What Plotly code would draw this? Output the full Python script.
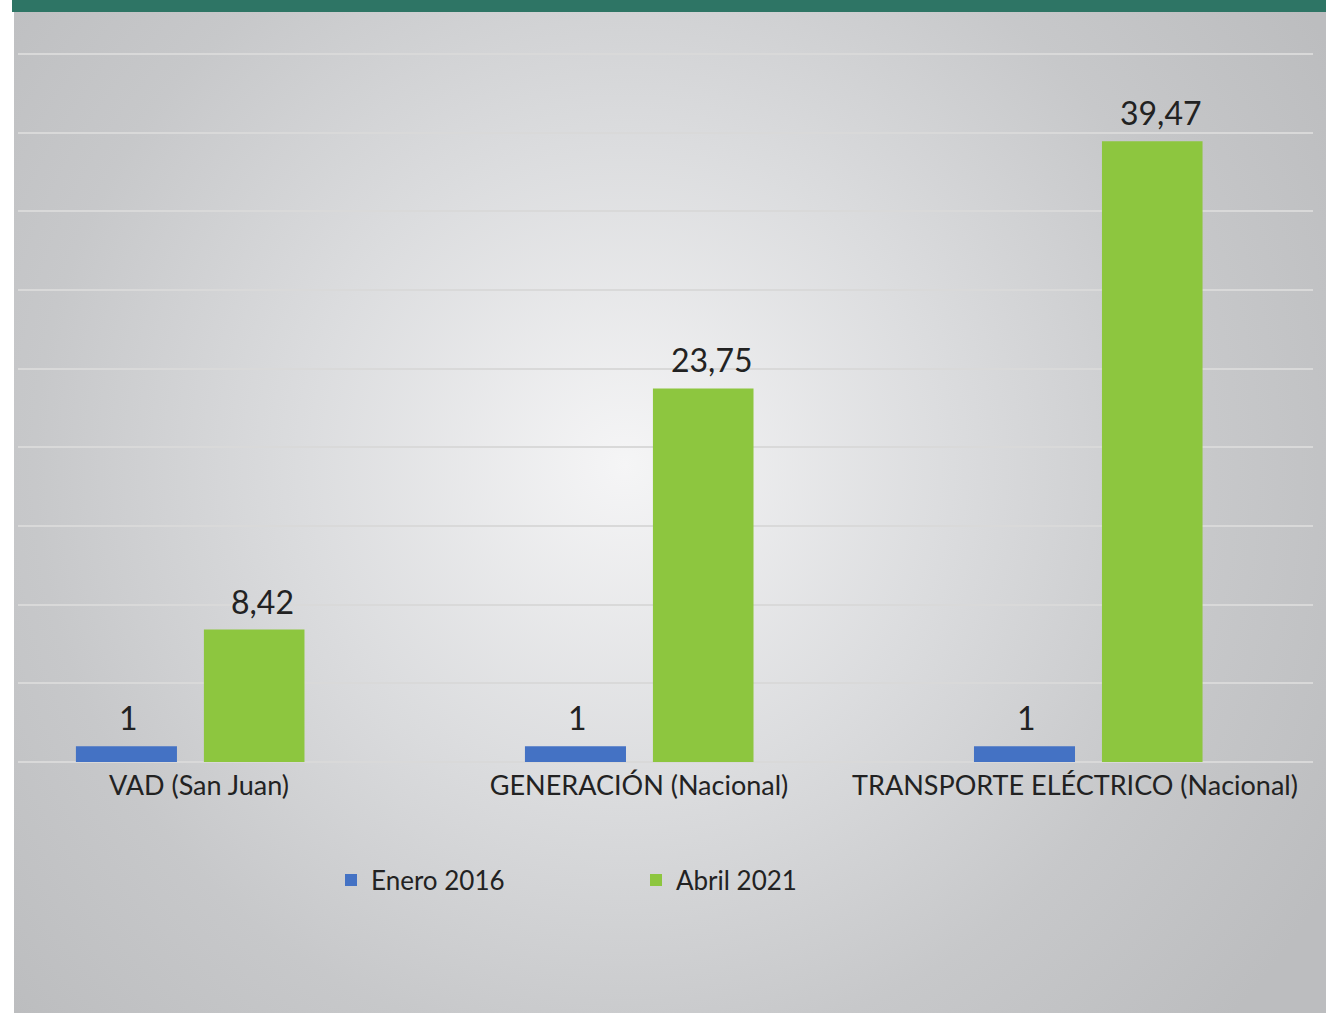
import base64
import plotly.graph_objects as go

# ---- data ----
categories = ["VAD (San Juan)", "GENERACIÓN (Nacional)", "TRANSPORTE ELÉCTRICO (Nacional)"]
series_names = ["Enero 2016", "Abril 2021"]
enero_2016 = [1, 1, 1]
abril_2021 = [8.42, 23.75, 39.47]
y_ticks = [0, 5, 10, 15, 20, 25, 30, 35, 40, 45]

# ---- style ----
W, H = 1326, 1013
ML, MR, MT, MB = 18, 13, 51, 251
FONT = "Lato"
TXT = "#222222"
BLUE = "#4472C4"
GREEN = "#8DC63F"
GRID = "#D9D9D9"

def fmt(v):
    return ("%g" % v).replace(".", ",")

x_idx = list(range(len(categories)))

# background: white strip, teal band, radial grey gradient
svg = f'''<svg xmlns="http://www.w3.org/2000/svg" width="{W}" height="{H}" viewBox="0 0 {W} {H}" preserveAspectRatio="none">
<defs><radialGradient id="g" gradientUnits="userSpaceOnUse" cx="625" cy="465" r="820">
<stop offset="0" stop-color="#f5f5f6"/>
<stop offset="0.40" stop-color="#dbdcde"/>
<stop offset="0.72" stop-color="#c7c8ca"/>
<stop offset="1" stop-color="#bcbdbf"/>
</radialGradient></defs>
<rect x="0" y="0" width="{W}" height="{H}" fill="#ffffff"/>
<rect x="14" y="12" width="{W-14}" height="{H-12}" fill="url(#g)"/>
<rect x="12" y="0" width="{W-12}" height="12" fill="#2E7565"/>
</svg>'''
src = "data:image/svg+xml;base64," + base64.b64encode(svg.encode()).decode()

pw = W - ML - MR
ph = H - MT - MB

fig = go.Figure()
fig.add_trace(go.Bar(x=x_idx, y=enero_2016, name=series_names[0], marker_color=BLUE,
                     marker_line_width=0, width=0.225, offset=-0.254, hoverinfo="skip"))
fig.add_trace(go.Bar(x=x_idx, y=abril_2021, name=series_names[1], marker_color=GREEN,
                     marker_line_width=0, width=0.224, offset=0.031, hoverinfo="skip"))

annotations = []
for i, v in enumerate(enero_2016):
    annotations.append(dict(x=x_idx[i] - 0.1415, y=v, xref="x", yref="y", text=fmt(v),
                            showarrow=False, yanchor="bottom", yshift=7, xshift=2,
                            font=dict(family=FONT, size=32, color=TXT)))
for i, v in enumerate(abril_2021):
    annotations.append(dict(x=x_idx[i] + 0.1425, y=v, xref="x", yref="y", text=fmt(v),
                            showarrow=False, yanchor="bottom", yshift=7, xshift=9,
                            font=dict(family=FONT, size=32, color=TXT)))

tick_shift = [0.02, 0.0, -0.029]

fig.update_layout(
    width=W, height=H,
    margin=dict(l=ML, r=MR, t=MT, b=MB, pad=0),
    paper_bgcolor="rgba(0,0,0,0)",
    plot_bgcolor="rgba(0,0,0,0)",
    barmode="overlay",
    font=dict(family=FONT, color=TXT),
    images=[dict(source=src, xref="paper", yref="paper",
                 x=-ML / pw, y=1 + MT / ph, sizex=W / pw, sizey=H / ph,
                 xanchor="left", yanchor="top", sizing="stretch", layer="below")],
    xaxis=dict(range=[-0.383, 2.501], tickvals=[x + s for x, s in zip(x_idx, tick_shift)],
               ticktext=categories, showgrid=False, zeroline=False, showline=False,
               ticks="", ticklabelstandoff=5,
               tickfont=dict(family=FONT, size=27, color=TXT), fixedrange=True),
    yaxis=dict(range=[0, 45.2], tickvals=y_ticks, showticklabels=False, showgrid=True,
               gridcolor=GRID, gridwidth=2, zeroline=True, zerolinecolor=GRID,
               zerolinewidth=2, showline=False, fixedrange=True),
    legend=dict(orientation="h", x=(331 - ML) / pw, y=(762 - 880) / ph,
                xanchor="left", yanchor="middle", bgcolor="rgba(0,0,0,0)",
                font=dict(family=FONT, size=26, color=TXT),
                entrywidth=260, entrywidthmode="pixels", itemwidth=30),
    annotations=annotations,
    showlegend=True,
    hovermode=False,
)

fig.write_html("out.html", config={"displayModeBar": False, "staticPlot": False},
               post_script="document.body.style.margin='0';document.body.style.padding='0';")
